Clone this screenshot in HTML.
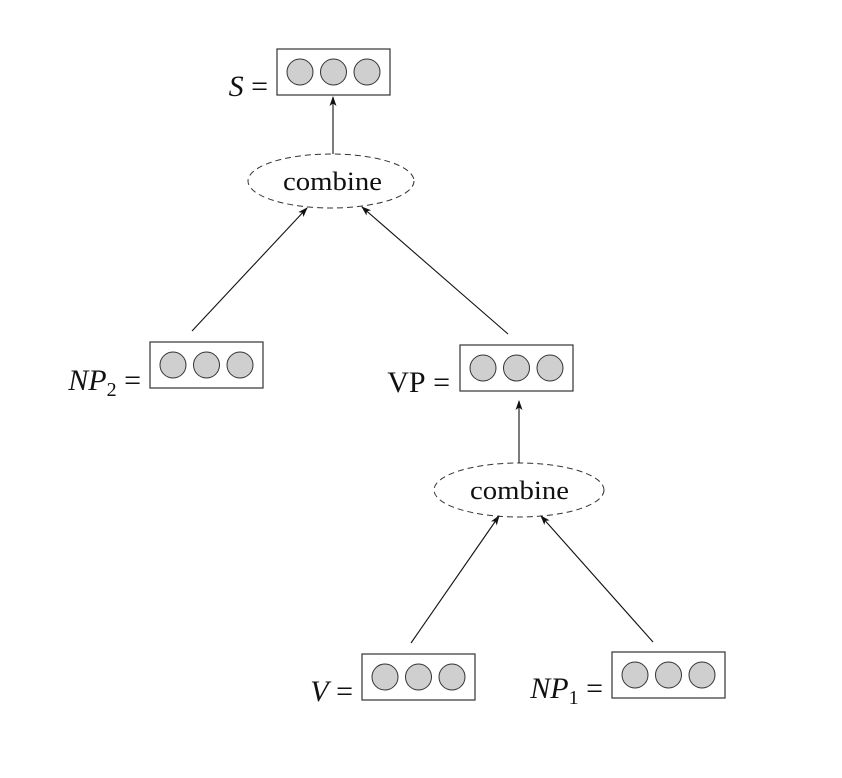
<!DOCTYPE html>
<html><head><meta charset="utf-8"><style>
html,body{margin:0;padding:0;background:#fff;}
svg{display:block;}
text{font-family:"Liberation Serif",serif;fill:#111;}
</style></head><body>
<svg width="842" height="778" viewBox="0 0 842 778" xmlns="http://www.w3.org/2000/svg">
<defs>
<marker id="a" viewBox="0 0 10 10" refX="9" refY="5" markerWidth="10" markerHeight="10" orient="auto-start-reverse" markerUnits="userSpaceOnUse">
<path d="M0,1.5 L10,5 L0,8.5 L2.5,5 z" fill="#111"/>
</marker>
<g id="box">
<rect x="0" y="0" width="113" height="46" fill="#fff" stroke="#333" stroke-width="1.2"/>
<circle cx="23" cy="23" r="13" fill="#cfcfcf" stroke="#333" stroke-width="1"/>
<circle cx="56.5" cy="23" r="13" fill="#cfcfcf" stroke="#333" stroke-width="1"/>
<circle cx="90" cy="23" r="13" fill="#cfcfcf" stroke="#333" stroke-width="1"/>
</g>
</defs>
<use href="#box" x="277" y="49"/>
<use href="#box" x="150" y="342"/>
<use href="#box" x="460" y="345"/>
<use href="#box" x="362" y="654"/>
<use href="#box" x="612" y="652"/>

<ellipse cx="331" cy="181" rx="83" ry="27" fill="none" stroke="#333" stroke-width="1" stroke-dasharray="6,4"/>
<ellipse cx="519" cy="490" rx="85" ry="27" fill="none" stroke="#333" stroke-width="1" stroke-dasharray="6,4"/>
<text x="283" y="190" font-size="26" textLength="99" lengthAdjust="spacingAndGlyphs">combine</text>
<text x="470" y="499" font-size="26" textLength="99" lengthAdjust="spacingAndGlyphs">combine</text>

<g stroke="#111" stroke-width="1.1" fill="none">
<line x1="333" y1="154" x2="333" y2="97" marker-end="url(#a)"/>
<line x1="192" y1="331" x2="307" y2="208" marker-end="url(#a)"/>
<line x1="508" y1="334" x2="362" y2="207" marker-end="url(#a)"/>
<line x1="519" y1="463" x2="519" y2="401" marker-end="url(#a)"/>
<line x1="411" y1="643" x2="499" y2="516" marker-end="url(#a)"/>
<line x1="653" y1="642" x2="541" y2="516" marker-end="url(#a)"/>
</g>

<text x="268" y="96" font-size="30" text-anchor="end"><tspan font-style="italic">S</tspan>&#160;=</text>
<text x="141" y="390" font-size="30" text-anchor="end"><tspan font-style="italic">NP</tspan><tspan font-size="20" dy="6">2</tspan><tspan dy="-6">&#160;=</tspan></text>
<text x="450" y="392" font-size="30" text-anchor="end">VP&#160;=</text>
<text x="353" y="701" font-size="30" text-anchor="end"><tspan font-style="italic">V</tspan>&#160;=</text>
<text x="603" y="698" font-size="30" text-anchor="end"><tspan font-style="italic">NP</tspan><tspan font-size="20" dy="6">1</tspan><tspan dy="-6">&#160;=</tspan></text>
</svg>
</body></html>
